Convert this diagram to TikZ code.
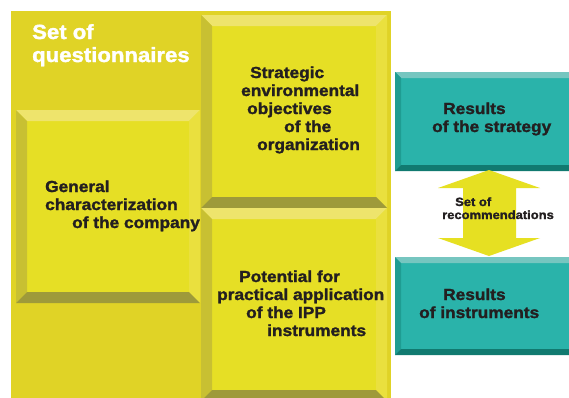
\documentclass[tikz,border=0pt]{standalone}
\usepackage{fontspec}
\setmainfont{Liberation Sans}[FakeStretch=1.08, BoldFeatures={FakeBold=1.6}]
\definecolor{ybg}{HTML}{E0D326}
\definecolor{yfaceC}{HTML}{E6DF25}
\definecolor{ytopC}{HTML}{EEE46C}
\definecolor{yleftC}{HTML}{C8C032}
\definecolor{yrightC}{HTML}{EAE03E}
\definecolor{ybotC}{HTML}{9E9A3A}
\definecolor{tfaceC}{HTML}{2AB3AA}
\definecolor{ttopC}{HTML}{76C6C0}
\definecolor{tleftC}{HTML}{1F9C92}
\definecolor{trightC}{HTML}{2AB3AA}
\definecolor{tbotC}{HTML}{117A70}
\definecolor{arrowC}{HTML}{E6E022}
\definecolor{txtC}{HTML}{231F20}
\tikzset{
  yface/.style={fill=yfaceC}, ytop/.style={fill=ytopC}, yleft/.style={fill=yleftC},
  yright/.style={fill=yrightC}, ybot/.style={fill=ybotC},
  tface/.style={fill=tfaceC}, ttop/.style={fill=ttopC}, tleft/.style={fill=tleftC},
  tright/.style={fill=trightC}, tbot/.style={fill=tbotC},
  ln/.style={anchor=base west, inner sep=0pt, text=txtC, font=\bfseries\fontsize{16}{18}\selectfont},
  ttl/.style={ln, text=white, font=\bfseries\fontsize{20.5}{25}\selectfont},
  sm/.style={ln, font=\bfseries\fontsize{12}{14}\selectfont},
  dbl/.style={fill=arrowC}
}
% x1 y1 x2 y2 bevel prefix
\newcommand{\bevbox}[6]{%
  \fill[#6face] (#1,#2) rectangle (#3,#4);
  \fill[#6top] (#1,#2) -- (#3,#2) -- (#3-#5,#2+#5) -- (#1+#5,#2+#5) -- cycle;
  \fill[#6left] (#1,#2) -- (#1+#5,#2+#5) -- (#1+#5,#4-#5) -- (#1,#4) -- cycle;
  \fill[#6right] (#3,#2) -- (#3,#4) -- (#3-#5,#4-#5) -- (#3-#5,#2+#5) -- cycle;
  \fill[#6bot] (#1,#4) -- (#1+#5,#4-#5) -- (#3-#5,#4-#5) -- (#3,#4) -- cycle;
}
\begin{document}
\begin{tikzpicture}[x=1pt,y=-1pt]
\useasboundingbox (0,0) rectangle (569,397);
\clip (0,0) rectangle (569,397);
\fill[white] (0,0) rectangle (569,397);
% outer yellow panel
\fill[ybg] (11,11) rectangle (391,400);
% yellow bevelled boxes
\bevbox{201}{15}{387}{208}{11}{y}
\bevbox{16}{110}{200}{303}{11}{y}
\bevbox{201}{208}{387}{401}{11}{y}
% teal boxes
\bevbox{395}{72}{575}{171}{6}{t}
\bevbox{395}{257}{575}{355}{6}{t}
% double arrow
\fill[dbl] (489,170) -- (540,188) -- (516,188) -- (516,238) -- (540,238) -- (489,256)
  -- (438,238) -- (463,238) -- (463,188) -- (438,188) -- cycle;
% title
\node[ttl] (t1) at (32,39) {Set of};
\node[ttl] (t2) at (32,62) {questionnaires};
% strategic
\node[ln] (s1) at (250,78) {Strategic};
\node[ln] (s2) at (241,96) {environmental};
\node[ln] (s3) at (247,114) {objectives};
\node[ln] (s4) at (284,132) {of the};
\node[ln] (s5) at (257,150) {organization};
% general
\node[ln] (g1) at (45,192) {General};
\node[ln] (g2) at (45,210) {characterization};
\node[ln] (g3) at (72,228) {of the company};
% IPP
\node[ln] (p1) at (239,282) {Potential for};
\node[ln] (p2) at (217,300) {practical application};
\node[ln] (p3) at (246,318) {of the IPP};
\node[ln] (p4) at (267,336) {instruments};
% teal texts
\node[ln] (r1) at (443,114) {Results};
\node[ln] (r2) at (432,132) {of the strategy};
\node[ln] (q1) at (443,300) {Results};
\node[ln] (q2) at (419,318) {of instruments};
% arrow text
\node[sm] (a1) at (455,206) {Set of};
\node[sm] (a2) at (442,219) {recommendations};
\end{tikzpicture}
\end{document}
